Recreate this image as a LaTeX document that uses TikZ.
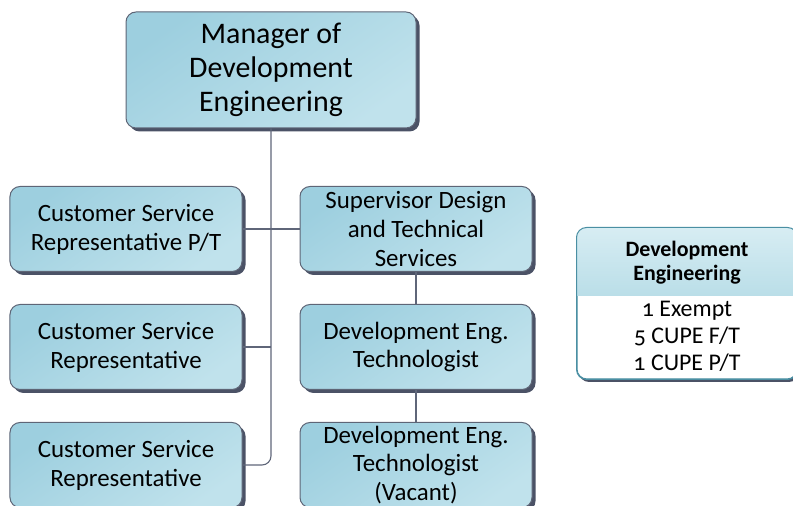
\documentclass[tikz,border=0pt]{standalone}
\usepackage{fontspec}
\setmainfont{Carlito}[Numbers=OldStyle]
\usepackage{tikz}
\usetikzlibrary{positioning,shadows,calc}
\definecolor{boxtop}{HTML}{9DCFDF}
\definecolor{boxbot}{HTML}{C0E2EC}
\definecolor{boxedge}{HTML}{5E6576}
\definecolor{shadowslate}{HTML}{4B5266}
\definecolor{linegray}{HTML}{5F6679}
\definecolor{legedge}{HTML}{4A8FA3}
\definecolor{legtop}{HTML}{D7EDF3}
\definecolor{legbot}{HTML}{BADEE8}

\tikzset{
  post/.style={draw=boxedge, line width=1bp, rounded corners=10bp, align=center,
    top color=boxtop, bottom color=boxbot, shading angle=35,
    drop shadow={shadow xshift=3.5bp, shadow yshift=-3.5bp, fill=shadowslate, opacity=1},
    minimum width=232bp, minimum height=85bp, inner sep=2bp,
    font=\fontsize{25}{29}\selectfont},
  conn/.style={draw=linegray, line width=1.1bp},
}

\begin{document}
\begin{tikzpicture}[x=1bp,y=1bp]
  \useasboundingbox (0,0) rectangle (793,506);
  % top position
  \node[post, minimum width=290bp, minimum height=116bp,
        font=\fontsize{30}{34}\selectfont] (mgr) at (271,436)
        {Manager of\\Development\\Engineering};
  % left column
  \node[post] (csrpt) at (126,277) {Customer Service\\Representative P/T};
  \node[post, below=32bp of csrpt] (csra) {Customer Service\\Representative};
  \node[post, below=32bp of csra] (csrb) {Customer Service\\Representative};
  % right column
  \node[post] (sup) at (416,277) {Supervisor Design\\and Technical\\Services};
  \node[post, below=32bp of sup] (techa) {Development Eng.\\Technologist};
  \node[post, below=32bp of techa] (techb) {Development Eng.\\Technologist\\(Vacant)};

  % lines
  \draw[conn, rounded corners=9bp] (mgr.south) |- (csrb.east);
  \draw[conn] (csrpt.east) -- (sup.west);
  \draw[conn] (csra.east) -- (csra.east -| mgr.south);
  \draw[conn] (sup.south) -- (techa.north);
  \draw[conn] (techa.south) -- (techb.north);

  % staff count box
  \node[draw=legedge, line width=1bp, rounded corners=10bp, fill=white,
        minimum width=220bp, minimum height=151bp,
        drop shadow={shadow xshift=2bp, shadow yshift=-3bp, fill=shadowslate, opacity=1}]
        (leg) at (687,202.5) {};
  \begin{scope}
    \clip[rounded corners=10bp] (leg.south west) rectangle (leg.north east);
    \shade[top color=legtop, bottom color=legbot]
      (leg.north west) rectangle ($(leg.north east)+(0,-68)$);
  \end{scope}
  \draw[legedge, line width=1bp, rounded corners=10bp] (leg.south west) rectangle (leg.north east);
  \node[align=center, font=\fontsize{22}{24}\selectfont\bfseries]
    (legtitle) at ($(leg.north)+(0,-35)$) {Development\\Engineering};
  \node[align=center, font=\fontsize{24}{27}\selectfont, below=10bp of legtitle]
    (legbody) {1 Exempt\\5 CUPE F/T\\1 CUPE P/T};
\end{tikzpicture}
\end{document}
